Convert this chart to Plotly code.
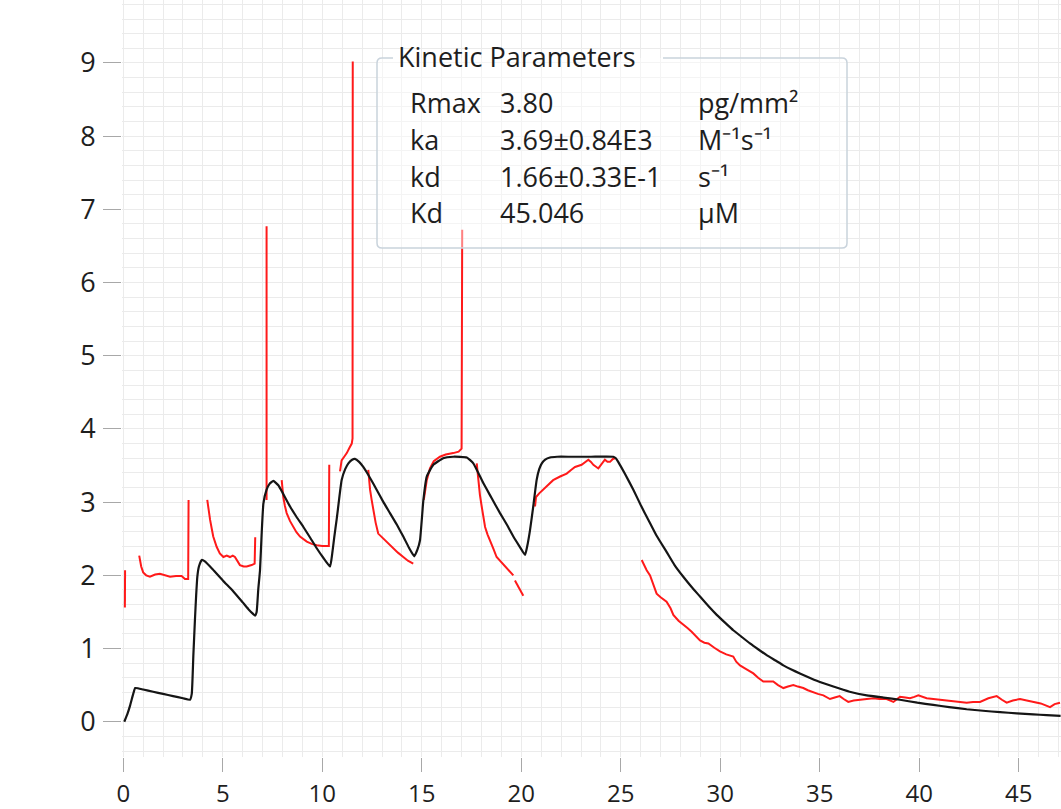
import plotly.graph_objects as go

# ---- data ----
fit_t = [0.05, 0.2, 0.34, 0.5, 0.6, 1.0, 1.5, 2.0, 2.5, 3.0, 3.35, 3.44, 3.52, 3.6, 3.66, 3.72, 3.8, 3.94,
         4.1, 4.5, 5.0, 5.5, 6.0, 6.28, 6.62, 6.7, 6.78, 6.87, 6.95, 7.04, 7.2, 7.35, 7.54, 7.79, 8.0,
         8.38, 8.7, 9.05, 9.4, 9.72, 10.05, 10.39, 10.5, 10.6, 10.72, 10.85, 10.97, 11.15, 11.31, 11.5,
         11.64, 11.85, 12.06, 12.4, 12.73, 13.05, 13.4, 13.75, 14.07, 14.35, 14.62, 14.78, 14.91, 15.08,
         15.25, 15.58, 16.08, 16.58, 17.26, 17.59, 18.09, 18.5, 18.93, 19.3, 19.6, 19.9, 20.19, 20.3,
         20.44, 20.6, 20.77, 20.9, 21.03, 21.2, 21.44, 21.8, 22.5, 23.5, 24.62, 24.75, 24.87, 25.2,
         25.63, 26.0, 26.38, 26.8, 27.3, 27.7, 28.14, 28.56, 28.98, 29.4, 29.82, 30.25, 30.65, 31.07,
         31.49, 31.9, 32.33, 32.75, 33.17, 33.6, 34.0, 34.85, 35.68, 36.5, 37.36, 38.2, 39.03, 39.9,
         40.7, 41.5, 42.38, 43.2, 44.06, 44.9, 45.73, 46.4, 47.1]
fit_v = [0.0, 0.1, 0.22, 0.38, 0.46, 0.44, 0.41, 0.38, 0.35, 0.32, 0.30, 0.38, 0.9, 1.39, 1.72, 1.98, 2.12, 2.21,
         2.19, 2.08, 1.93, 1.79, 1.63, 1.54, 1.45, 1.5, 1.8, 2.07, 2.55, 2.98, 3.17, 3.25, 3.29, 3.23, 3.13,
         2.94, 2.8, 2.66, 2.51, 2.37, 2.24, 2.12, 2.3, 2.52, 2.76, 3.05, 3.3, 3.45, 3.53, 3.58,
         3.59, 3.55, 3.48, 3.33, 3.17, 3.01, 2.85, 2.69, 2.53, 2.38, 2.26, 2.35, 2.48, 3.03,
         3.35, 3.51, 3.6, 3.62, 3.61, 3.53, 3.26, 3.06, 2.85, 2.68, 2.53, 2.4, 2.28, 2.4,
         2.62, 2.94, 3.3, 3.45, 3.53, 3.58, 3.61, 3.62, 3.62, 3.62, 3.62, 3.6, 3.55, 3.39,
         3.17, 2.96, 2.76, 2.54, 2.32, 2.14, 1.98, 1.84, 1.71, 1.58, 1.46, 1.35, 1.25, 1.16,
         1.07, 0.99, 0.91, 0.84, 0.77, 0.71, 0.66, 0.56, 0.48, 0.41, 0.36, 0.33, 0.30, 0.26,
         0.23, 0.2, 0.17, 0.15, 0.13, 0.115, 0.10, 0.09, 0.08]

# measured response, segments separated by None
data_t = [0.08, 0.09, None,
          0.80, 0.9, 1.0, 1.15, 1.34, 1.6, 1.84, 2.1, 2.35, 2.65, 2.93, 3.1, 3.26, 3.28, None,
          4.22, 4.28, 4.36, 4.45, 4.52, 4.69, 4.85, 5.03, 5.2, 5.36, 5.5, 5.61, 5.75, 5.86, 6.05, 6.2, 6.45, 6.6, 6.63, None,
          7.2, 7.2, None,
          7.96, 8.04, 8.12, 8.21, 8.38, 8.54, 8.7, 8.88, 9.05, 9.22, 9.47, 9.72, 10.0, 10.22, 10.33, 10.35, None,
          10.89, 10.95, 10.97, 11.1, 11.23, 11.36, 11.48, 11.52, 11.53, None,
          12.31, 12.35, 12.4, 12.48, 12.56, 12.68, 12.81, 13.07, 13.3, 13.57, 13.8, 14.07, 14.3, 14.57, None,
          15.1, 15.16, 15.25, 15.41, 15.6, 15.91, 16.2, 16.58, 16.85, 17.0, 17.03, None,
          17.76, 17.84, 17.92, 18.01, 18.1, 18.18, 18.3, 18.43, 18.6, 18.76, 18.93, 19.1, 19.35, 19.6, None,
          19.68, 19.9, 20.1, None,
          20.69, 20.74, 20.9, 21.1, 21.35, 21.6, 21.95, 22.28, 22.5, 22.7, 23.03, 23.2, 23.37, 23.5, 23.62,
          23.87, 24.05, 24.2, 24.33, 24.46, 24.6, 24.71, None,
          26.05, 26.3, 26.47, 26.63, 26.8, 27.0, 27.3, 27.5, 27.64, 27.9, 28.14, 28.35, 28.56, 28.8, 28.98,
          29.2, 29.4, 29.7, 29.98, 30.3, 30.65, 30.8, 30.99, 31.3, 31.66, 31.9, 32.16, 32.4, 32.66, 32.9,
          33.17, 33.4, 33.67, 33.9, 34.17, 34.4, 34.67, 34.9, 35.18, 35.51, 35.75, 36.0, 36.2, 36.43,
          36.7, 37.02, 37.35, 37.69, 38.0, 38.36, 38.7, 39.03, 39.3, 39.53, 39.75, 39.95, 40.37, 40.7,
          41.04, 41.4, 41.7, 42.0, 42.38, 42.7, 43.05, 43.47, 43.89, 44.15, 44.39, 44.7, 45.06, 45.4,
          45.73, 46.1, 46.57, 46.8, 47.07]
data_v = [1.56, 2.07, None,
          2.27, 2.12, 2.04, 2.0, 1.98, 2.01, 2.02, 2.0, 1.98, 1.99, 1.99, 1.95, 1.95, 3.03, None,
          3.03, 2.9, 2.76, 2.63, 2.53, 2.39, 2.3, 2.25, 2.27, 2.25, 2.27, 2.25, 2.18, 2.14, 2.12, 2.12, 2.14, 2.16, 2.52, None,
          3.03, 6.77, None,
          3.30, 3.07, 2.95, 2.85, 2.74, 2.66, 2.59, 2.53, 2.49, 2.46, 2.43, 2.41, 2.40, 2.40, 2.40, 3.51, None,
          3.42, 3.5, 3.57, 3.62, 3.67, 3.74, 3.80, 3.87, 9.02, None,
          3.44, 3.3, 3.17, 3.03, 2.89, 2.72, 2.57, 2.5, 2.44, 2.37, 2.31, 2.25, 2.2, 2.16, None,
          3.03, 3.15, 3.3, 3.46, 3.56, 3.62, 3.65, 3.67, 3.69, 3.73, 6.72, None,
          3.53, 3.30, 3.1, 2.94, 2.8, 2.66, 2.56, 2.48, 2.36, 2.25, 2.2, 2.15, 2.07, 2.0, None,
          1.93, 1.82, 1.72, None,
          2.94, 3.07, 3.12, 3.17, 3.23, 3.3, 3.35, 3.39, 3.44, 3.48, 3.51, 3.54, 3.58, 3.55, 3.51,
          3.46, 3.52, 3.58, 3.55, 3.55, 3.59, 3.6, None,
          2.21, 2.07, 2.0, 1.89, 1.75, 1.7, 1.64, 1.55, 1.46, 1.38, 1.32, 1.28, 1.23, 1.16, 1.11,
          1.08, 1.07, 1.01, 0.96, 0.92, 0.89, 0.82, 0.77, 0.72, 0.66, 0.6, 0.55, 0.55, 0.55, 0.5,
          0.46, 0.48, 0.5, 0.48, 0.46, 0.43, 0.40, 0.38, 0.36, 0.31, 0.33, 0.35, 0.31, 0.27,
          0.29, 0.30, 0.31, 0.32, 0.31, 0.31, 0.27, 0.34, 0.33, 0.32, 0.34, 0.36, 0.32, 0.31,
          0.30, 0.29, 0.29, 0.28, 0.26, 0.27, 0.27, 0.32, 0.35, 0.3, 0.26, 0.29, 0.31, 0.29,
          0.27, 0.25, 0.2, 0.24, 0.26]

x_ticks = [0, 5, 10, 15, 20, 25, 30, 35, 40, 45]
y_ticks = [0, 1, 2, 3, 4, 5, 6, 7, 8, 9]

box_title = "Kinetic Parameters"
param_names = ["Rmax", "ka", "kd", "Kd"]
param_values = ["3.80", "3.69±0.84E3", "1.66±0.33E-1", "45.046"]
param_units = ["pg/mm²", "M⁻¹s⁻¹", "s⁻¹", "µM"]

# ---- layout geometry (pixels) ----
W, H = 1061, 809
ML, MR, MT, MB = 122, 0, 0, 52
PW, PH = W - ML - MR, H - MT - MB


def px(x):
    return (x - ML) / PW


def py(y):
    return (H - MB - y) / PH


FONT = "Open Sans"
TXT = "#1e1e1e"
GRID = "#ebebeb"

fig = go.Figure()
fig.add_trace(go.Scatter(x=data_t, y=data_v, mode="lines", connectgaps=False,
                         line=dict(color="#ff1a1a", width=2), hoverinfo="skip", showlegend=False))
fig.add_trace(go.Scatter(x=fit_t, y=fit_v, mode="lines", line_shape="spline", line_smoothing=0.4,
                         line=dict(color="#151515", width=2.2), hoverinfo="skip", showlegend=False))

# parameter box (group-box style, border interrupted by the title)
x0, x1, y0, y1 = 377, 847, 58, 248
r = 5
rx, ry = r / PW, r / PH
X0, X1, Y0, Y1 = px(x0), px(x1), py(y0), py(y1)
fill_path = (f"M {X0+rx},{Y0} L {X1-rx},{Y0} Q {X1},{Y0} {X1},{Y0-ry} L {X1},{Y1+ry} "
             f"Q {X1},{Y1} {X1-rx},{Y1} L {X0+rx},{Y1} Q {X0},{Y1} {X0},{Y1+ry} L {X0},{Y0-ry} "
             f"Q {X0},{Y0} {X0+rx},{Y0} Z")
border_path = (f"M {px(393)},{Y0} L {X0+rx},{Y0} Q {X0},{Y0} {X0},{Y0-ry} L {X0},{Y1+ry} "
               f"Q {X0},{Y1} {X0+rx},{Y1} L {X1-rx},{Y1} Q {X1},{Y1} {X1},{Y1+ry} L {X1},{Y0-ry} "
               f"Q {X1},{Y0} {X1-rx},{Y0} L {px(663)},{Y0}")
fig.add_shape(type="path", path=fill_path, xref="paper", yref="paper",
              fillcolor="rgba(255,255,255,0.45)", line=dict(width=0), layer="above")
fig.add_shape(type="path", path=border_path, xref="paper", yref="paper",
              line=dict(color="#c9d3dc", width=1.5), layer="above")

annotations = [dict(x=px(396), y=py(57), text=box_title)]
row_y = [102, 139, 176, 213]
for i in range(4):
    annotations.append(dict(x=px(408), y=py(row_y[i]), text=param_names[i]))
    annotations.append(dict(x=px(498), y=py(row_y[i]), text=param_values[i]))
    annotations.append(dict(x=px(696), y=py(row_y[i]), text=param_units[i]))
for a in annotations:
    a.update(xref="paper", yref="paper", xanchor="left", yanchor="middle", showarrow=False,
             font=dict(family=FONT, size=27, color=TXT))
fig.update_layout(annotations=annotations)

fig.update_xaxes(range=[-0.065, 47.12], tickvals=x_ticks, ticktext=[str(v) for v in x_ticks],
                 automargin=False,
                 showgrid=True, gridcolor=GRID, gridwidth=1, zeroline=False, showline=False,
                 ticks="outside", ticklen=14, tickcolor="#a8a8a8", tickwidth=1,
                 ticklabelstandoff=1,
                 tickfont=dict(family=FONT, size=24, color=TXT),
                 minor=dict(dtick=1, showgrid=True, gridcolor=GRID, gridwidth=1, ticks=""))
fig.update_yaxes(range=[-0.482, 9.86], tickvals=y_ticks, ticktext=[str(v) for v in y_ticks],
                 automargin=False,
                 showgrid=True, gridcolor=GRID, gridwidth=1, zeroline=False, showline=False,
                 ticks="outside", ticklen=18, tickcolor="#a8a8a8", tickwidth=1,
                 ticklabelstandoff=2,
                 tickfont=dict(family=FONT, size=27, color=TXT),
                 minor=dict(dtick=0.2, showgrid=True, gridcolor=GRID, gridwidth=1, ticks=""))

fig.update_layout(width=W, height=H, margin=dict(l=ML, r=MR, t=MT, b=MB),
                  paper_bgcolor="white", plot_bgcolor="white", showlegend=False)

fig.write_html("out.html")
